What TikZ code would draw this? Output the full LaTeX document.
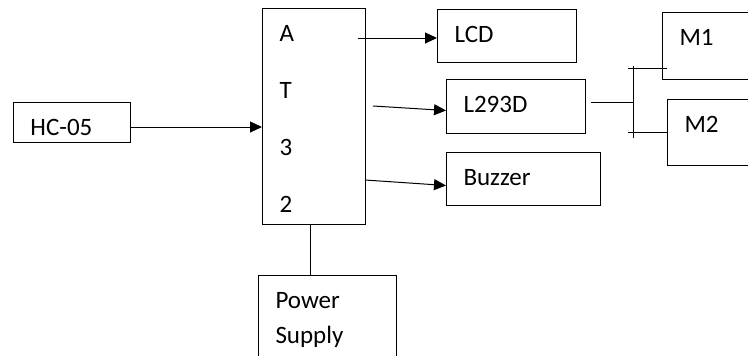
\documentclass[tikz,border=0pt]{standalone}
\usepackage{fontspec}
\setmainfont{Carlito}
\usetikzlibrary{arrows.meta}

\tikzset{
  blk/.style={draw, line width=1pt, anchor=north west, align=left,
    inner xsep=17pt, inner ysep=0pt, text height=33pt,
    font=\fontsize{25}{30}\selectfont},
  conn/.style={line width=1pt},
  arr/.style={conn, -{Triangle[length=12pt,width=11pt]}}
}

\begin{document}
\begin{tikzpicture}[x=1pt,y=-1pt]
\useasboundingbox (0,0) rectangle (748,356);
\clip (0,0) rectangle (748,356);
\fill[white] (0,0) rectangle (748,356);

% blocks
\node[blk, text width=83pt, text depth=7pt] (hc) at (13,102) {HC-05};
\node[blk, text width=69pt, text depth=183pt, font=\fontsize{25}{57}\selectfont] (at32) at (262,8) {A\\T\\3\\2};
\node[blk, text width=105pt, text depth=20pt] (lcd) at (437,9) {LCD};
\node[blk, text width=105pt, text depth=21pt] (l293) at (446,79) {L293D};
\node[blk, text width=120pt, text depth=20pt] (buzz) at (446,152) {Buzzer};
\node[blk, text width=84pt, text depth=34pt] (m1) at (662,12) {M1};
\node[blk, text width=84pt, text depth=33pt] (m2) at (667,99) {M2};
\node[blk, text width=104pt, text depth=80pt, font=\fontsize{25}{35}\selectfont] (pwr) at (258,275) {Power\\Supply};

% free ends
\coordinate (in1) at (262,127);
\coordinate (o1) at (358,38);
\coordinate (o2) at (373,106);
\coordinate (o3) at (365,180);
\coordinate (l293out) at (591,102);
\coordinate (bus) at (633,102);
\coordinate (busT) at (633,66);
\coordinate (busB) at (633,138);
\coordinate (m1tap) at (628,68);
\coordinate (m1in) at (667,68);
\coordinate (m2tap) at (628,132);
\coordinate (pwrtap) at (310,0);

% connectors
\draw[arr] (hc.east |- in1) -- (at32.west |- in1);
\draw[arr] (o1) -- (lcd.west |- o1);
\draw[arr] (o2) -- ([yshift=-4pt]l293.west);
\draw[arr] (o3) -- ([yshift=-6.5pt]buzz.west);
\draw[conn] (l293out) -- (bus);
\draw[conn] (busT) -- (busB);
\draw[conn] (m1tap) -- (m1in);
\draw[conn] (m2tap) -- (m2.west |- m2tap);
\draw[conn] (at32.south -| pwrtap) -- (pwr.north -| pwrtap);
\end{tikzpicture}
\end{document}
